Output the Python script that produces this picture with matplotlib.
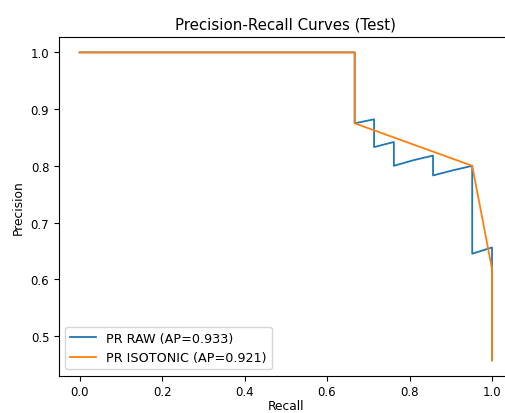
import matplotlib
matplotlib.use("Agg")
import matplotlib.pyplot as plt

# PR points (recall, precision)
raw_recall = [0.0, 0.667, 0.667, 0.714, 0.714, 0.762, 0.762, 0.810, 0.857, 0.857, 0.905, 0.952, 0.952, 1.0, 1.0]
raw_precision = [1.0, 1.0, 0.875, 0.882, 0.833, 0.842, 0.800, 0.810, 0.818, 0.783, 0.792, 0.800, 0.645, 0.656, 0.457]

iso_recall = [0.0, 0.667, 0.667, 0.952, 1.0, 1.0]
iso_precision = [1.0, 1.0, 0.875, 0.800, 0.618, 0.457]

ap_raw = 0.933
ap_iso = 0.921

plt.rcParams['font.size'] = 8.8
plt.rcParams['xtick.labelsize'] = 8.5
plt.rcParams['ytick.labelsize'] = 8.5
plt.rcParams['legend.fontsize'] = 9.2

fig = plt.figure(figsize=(5.06, 4.14), dpi=100)
ax = fig.add_axes([0.1166, 0.0901, 0.8965, 0.8181])

ax.plot(raw_recall, raw_precision, lw=1.3, label=f"PR RAW (AP={ap_raw:.3f})")
ax.plot(iso_recall, iso_precision, lw=1.3, label=f"PR ISOTONIC (AP={ap_iso:.3f})")

ax.set_xlabel("Recall", labelpad=0.5)
ax.set_ylabel("Precision")
ax.set_title("Precision-Recall Curves (Test)", fontsize=10.8)
ax.legend(loc="lower left")

fig.savefig("out.png", dpi=100)
